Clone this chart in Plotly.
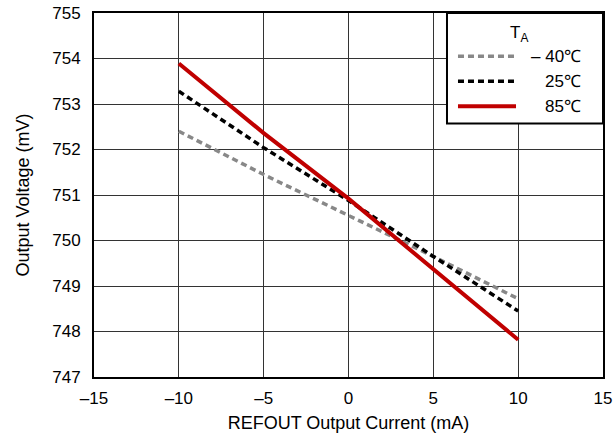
import plotly.graph_objects as go

current_ma = [-10, -5, 0, 5, 10]
v_m40 = [752.40, 751.45, 750.55, 749.65, 748.72]
v_25 = [753.28, 752.04, 750.88, 749.65, 748.45]
v_85 = [753.89, 752.36, 750.92, 749.37, 747.82]

legend_title = "T<sub>A</sub>"
series_names = ["\u2013 40\u2103", "25\u2103", "85\u2103"]
series_values = [v_m40, v_25, v_85]
series_colors = ["#888888", "#000000", "#C00000"]
series_dashes = ["6px,4px", "6px,4px", "solid"]
series_widths = [3.5, 3.5, 4]

x_ticks = [-15, -10, -5, 0, 5, 10, 15]
x_labels = ["\u201315", "\u201310", "\u20135", "0", "5", "10", "15"]
y_ticks = [747, 748, 749, 750, 751, 752, 753, 754, 755]

FONT = "Liberation Sans, Arial, sans-serif"
fig = go.Figure()
for name, vals, color, dash, w in zip(series_names, series_values, series_colors,
                                      series_dashes, series_widths):
    fig.add_trace(go.Scatter(
        x=current_ma, y=vals, mode="lines", name=name, showlegend=False,
        line=dict(color=color, width=w, dash=dash),
    ))

# Hand-drawn legend box (paper coordinates)
fig.add_shape(type="rect", xref="paper", yref="paper", x0=0.6935, x1=1.0, y0=0.6964, y1=1.0,
              line=dict(color="black", width=2), fillcolor="white", layer="above")
fig.add_annotation(xref="paper", yref="paper", x=0.835, y=0.942, text=legend_title,
                   showarrow=False, font=dict(size=17), xanchor="center", yanchor="middle")
legend_rows_y = [0.881, 0.8125, 0.744]
for name, color, dash, w, yy in zip(series_names, series_colors, series_dashes,
                                     series_widths, legend_rows_y):
    fig.add_shape(type="line", xref="paper", yref="paper", x0=0.7151, x1=0.8291, y0=yy, y1=yy,
                  line=dict(color=color, width=w, dash=dash), layer="above")
    fig.add_annotation(xref="paper", yref="paper", x=0.9607, y=yy, text=name,
                       showarrow=False, font=dict(size=17), xanchor="right", yanchor="middle")

fig.update_layout(
    width=615, height=441,
    margin=dict(l=94, r=12, t=13, b=64),
    plot_bgcolor="white", paper_bgcolor="white",
    font=dict(family=FONT, size=17, color="black"),
    showlegend=False,
)
fig.update_xaxes(
    range=[-15, 15], tickvals=x_ticks, ticktext=x_labels,
    showgrid=True, gridcolor="#333333", gridwidth=1,
    showline=True, linecolor="black", linewidth=2, mirror=True,
    zeroline=False, ticks="", ticklabelstandoff=5, ticklabeloverflow="allow",
    automargin="bottom",
    title=dict(text="REFOUT Output Current (mA)", font=dict(size=18), standoff=9),
)
fig.update_yaxes(
    range=[747, 755], tickvals=y_ticks,
    showgrid=True, gridcolor="#333333", gridwidth=1,
    showline=True, linecolor="black", linewidth=2, mirror=True,
    zeroline=False, ticks="", ticklabelstandoff=8, ticklabeloverflow="allow",
    automargin="left",
    title=dict(text="Output Voltage (mV)", font=dict(size=18), standoff=18),
)
fig.write_html("out.html", config={"displayModeBar": False},
               post_script="document.body.style.margin='0';")
